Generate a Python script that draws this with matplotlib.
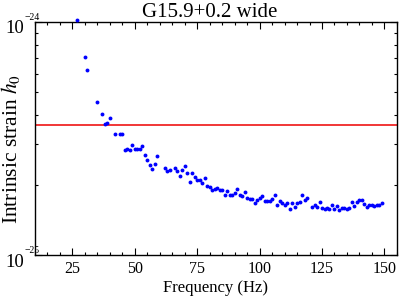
import numpy as np
import matplotlib
matplotlib.use("Agg")
import matplotlib.pyplot as plt
from matplotlib.ticker import LogLocator, MultipleLocator, NullFormatter, FixedLocator

plt.rcParams['font.family'] = ['Liberation Serif', 'DejaVu Serif']
plt.rcParams['mathtext.fontset'] = 'stix'

title = "G15.9+0.2 wide"
xlabel = "Frequency (Hz)"
ylabel = r"Intrinsic strain $h_0$"

freq = [27, 30, 31, 35, 37, 38, 39, 40, 42, 44, 45,
        46, 47, 48, 49, 50, 51, 52, 53, 54, 55, 56, 57, 58, 59,
        62, 63, 64,
        66, 67, 68, 69, 70, 71, 72, 73, 74, 75, 76, 77, 78, 79, 80,
        81, 82, 83, 84, 85, 86, 87, 88, 89, 90, 91, 92, 93, 94, 95,
        96, 97, 98, 99, 100, 101, 102, 103, 104, 105, 106, 107, 108,
        109, 110, 111, 112, 113, 114, 115, 116, 117, 118, 119,
        121, 122, 123, 124, 125, 126, 127, 128, 129, 130, 131, 132,
        133, 134, 135, 136, 137, 138, 139, 140, 141, 142, 143, 144,
        145, 146, 147, 148, 149]

# strain upper limits in units of 1e-25
h0 = [10.2, 7.09, 6.22, 4.54, 4.03, 3.67, 3.70, 3.86, 3.30, 3.31, 3.31,
      2.83, 2.87, 2.84, 2.96, 2.86, 2.87, 2.86, 2.94, 2.68, 2.56, 2.43, 2.35, 2.47, 2.66,
      2.38, 2.29, 2.32,
      2.37, 2.30, 2.19, 2.32, 2.42, 2.26, 2.07, 2.26, 2.16, 2.10, 2.10, 2.05, 2.15, 1.99, 1.97,
      1.91, 1.93, 1.95, 1.91, 1.90, 1.82, 1.89, 1.82, 1.81, 1.85, 1.92, 1.81, 1.80, 1.87, 1.77,
      1.74, 1.75, 1.67, 1.72, 1.77, 1.79, 1.71, 1.71, 1.71, 1.74, 1.82, 1.65, 1.71,
      1.67, 1.64, 1.68, 1.58, 1.68, 1.62, 1.67, 1.69, 1.81, 1.72, 1.77,
      1.62, 1.64, 1.62, 1.69, 1.60, 1.58, 1.59, 1.58, 1.64, 1.58, 1.63, 1.56,
      1.59, 1.59, 1.58, 1.60, 1.70, 1.63, 1.70, 1.73, 1.73, 1.66, 1.62, 1.64,
      1.65, 1.63, 1.64, 1.65, 1.67]

h_age_limit = 3.62e-25

xticks = [25, 50, 75, 100, 125, 150]
yticks = [1e-25, 1e-24]

fig = plt.figure(figsize=(3.99, 2.97), dpi=100)
ax = fig.add_axes([0.0877, 0.140, 0.907, 0.786])

ax.plot(freq, np.array(h0) * 1e-25, 'o', color='#0000ff', markersize=2.8,
        markeredgewidth=0, clip_on=False, zorder=3)
ax.axhline(h_age_limit, color='#ee0000', lw=1.1, zorder=2)

ax.set_yscale('log')
ax.set_xlim(10, 155)
ax.set_ylim(1e-25, 1e-24)

ax.xaxis.set_major_locator(FixedLocator(xticks))
ax.xaxis.set_minor_locator(MultipleLocator(5))
ax.yaxis.set_major_locator(FixedLocator(yticks))
ax.yaxis.set_minor_locator(LogLocator(base=10, subs=np.arange(2, 10)))
ax.yaxis.set_major_formatter(NullFormatter())
ax.yaxis.set_minor_formatter(NullFormatter())

ax.tick_params(which='both', direction='in', top=True, right=True, pad=4)
ax.tick_params(axis='x', labelsize=11.5)
ax.tick_params(which='major', length=5, width=0.8)
ax.tick_params(which='minor', length=2.5, width=0.8)
for s in ax.spines.values():
    s.set_linewidth(1.0)

# y tick labels: large mantissa, small superscript exponent
for yt in yticks:
    exp = int(round(np.log10(yt)))
    ax.annotate("10", xy=(0, yt), xycoords=('axes fraction', 'data'),
                xytext=(-7.8, -4.8), textcoords='offset points',
                ha='right', va='center', fontsize=13.5, annotation_clip=False)
    ax.annotate("\u2212%d" % abs(exp), xy=(0, yt), xycoords=('axes fraction', 'data'),
                xytext=(-7.6, 3.2), textcoords='offset points',
                ha='left', va='center', fontsize=7, annotation_clip=False)

ax.set_title(title, fontsize=15, pad=3.8, x=0.482)
ax.set_xlabel(xlabel, fontsize=12, labelpad=2)
ax.set_ylabel(ylabel, fontsize=15.5)
ax.yaxis.set_label_coords(-0.036, 0.456)

fig.savefig("out.png", dpi=100)
